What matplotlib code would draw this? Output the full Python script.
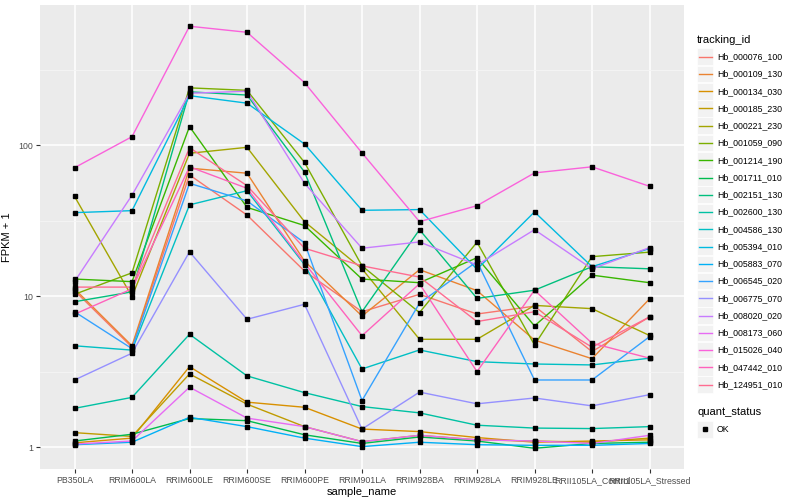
import numpy as np
import matplotlib.pyplot as plt
from matplotlib.patches import Rectangle
from matplotlib.lines import Line2D

plt.rcParams['font.family'] = ['Liberation Sans', 'DejaVu Sans']

samples = ['PB350LA', 'RRIM600LA', 'RRIM600LE', 'RRIM600SE', 'RRIM600PE', 'RRIM901LA',
           'RRIM928BA', 'RRIM928LA', 'RRIM928LE', 'RRII105LA_Control', 'RRII105LA_Stressed']

ids = ['Hb_000076_100', 'Hb_000109_130', 'Hb_000134_030', 'Hb_000185_230', 'Hb_000221_230',
       'Hb_001059_090', 'Hb_001214_190', 'Hb_001711_010', 'Hb_002151_130', 'Hb_002600_130',
       'Hb_004586_130', 'Hb_005394_010', 'Hb_005883_070', 'Hb_006545_020', 'Hb_006775_070',
       'Hb_008020_020', 'Hb_008173_060', 'Hb_015026_040', 'Hb_047442_010', 'Hb_124951_010']

colors = ['#F8766D', '#EA8331', '#D89000', '#C09B00', '#A3A500', '#7CAE00', '#39B600', '#00BB4E',
          '#00BF7D', '#00C1A3', '#00BFC4', '#00BAE0', '#00B0F6', '#35A2FF', '#9590FF', '#C77CFF',
          '#E76BF3', '#FA62DB', '#FF62BC', '#FF6C91']

# FPKM + 1 per sample, one list per gene
hb_000076_100 = [10.9, 4.6, 63.6, 34.5, 14.7, 7.9, 10.3, 7.63, 8.6, 4.3, 7.3]
hb_000109_130 = [11.2, 4.7, 70.5, 65.3, 17.1, 7.4, 15.0, 10.9, 5.13, 3.86, 9.6]
hb_000134_030 = [1.07, 1.15, 3.42, 1.99, 1.84, 1.32, 1.27, 1.16, 1.08, 1.10, 1.12]
hb_000185_230 = [1.25, 1.18, 3.06, 1.93, 1.37, 1.09, 1.20, 1.12, 1.10, 1.08, 1.15]
hb_000221_230 = [45.9, 9.94, 88.5, 96.9, 31.2, 15.2, 5.19, 5.19, 8.7, 8.28, 5.5]
hb_001059_090 = [10.3, 14.3, 240, 231, 77, 15.9, 7.8, 22.8, 4.76, 18.3, 19.6]
hb_001214_190 = [13.0, 12.5, 133, 38.8, 29.4, 13.0, 12.3, 18.0, 6.36, 13.8, 12.3]
hb_001711_010 = [1.10, 1.22, 1.55, 1.50, 1.21, 1.06, 1.17, 1.10, 0.985, 1.06, 1.08]
hb_002151_130 = [9.2, 10.7, 226, 215, 66.5, 7.9, 27.6, 9.68, 10.97, 15.7, 15.2]
hb_002600_130 = [1.81, 2.14, 5.6, 2.97, 2.30, 1.86, 1.69, 1.40, 1.34, 1.33, 1.37]
hb_004586_130 = [4.7, 4.4, 40.3, 50, 16.2, 3.30, 4.41, 3.69, 3.56, 3.51, 3.89]
hb_005394_010 = [35.8, 36.9, 213, 190, 102, 37.1, 37.5, 15.1, 36.2, 15.7, 20.7]
hb_005883_070 = [1.04, 1.08, 1.58, 1.37, 1.15, 1.01, 1.08, 1.04, 1.03, 1.03, 1.06]
hb_006545_020 = [7.9, 4.5, 56, 42.8, 22.6, 2.04, 9.0, 17.0, 2.79, 2.79, 5.4]
hb_006775_070 = [2.79, 4.2, 19.7, 7.04, 8.85, 1.32, 2.32, 1.94, 2.12, 1.88, 2.23]
hb_008020_020 = [12.5, 46.7, 221, 228, 56, 20.8, 22.9, 16.1, 27.6, 15.2, 21.0]
hb_008173_060 = [1.05, 1.10, 2.5, 1.56, 1.37, 1.09, 1.20, 1.12, 1.10, 1.06, 1.20]
hb_015026_040 = [71, 114, 614, 560, 260, 89, 31.2, 39.8, 65.6, 72, 53.5]
hb_047442_010 = [7.6, 11.2, 72, 51.9, 16.6, 5.48, 12.1, 3.17, 10.97, 4.89, 3.89]
hb_124951_010 = [11.5, 11.5, 96.4, 54, 20.8, 15.9, 13.4, 6.80, 7.9, 4.6, 7.3]

values = [hb_000076_100, hb_000109_130, hb_000134_030, hb_000185_230, hb_000221_230,
          hb_001059_090, hb_001214_190, hb_001711_010, hb_002151_130, hb_002600_130,
          hb_004586_130, hb_005394_010, hb_005883_070, hb_006545_020, hb_006775_070,
          hb_008020_020, hb_008173_060, hb_015026_040, hb_047442_010, hb_124951_010]

W, H = 800, 500
fig = plt.figure(figsize=(8, 5), dpi=100)
ax = fig.add_axes([40 / W, 1 - 469 / H, (684 - 40) / W, (469 - 5) / H])
ax.set_facecolor('#EBEBEB')

x = np.arange(len(samples))
for vals, c in zip(values, colors):
    ax.plot(x, vals, color=c, lw=1, zorder=3)
for vals in values:
    ax.plot(x, vals, ls='none', marker='s', ms=2.8, color='black', zorder=4)

ax.set_yscale('log')
ax.set_ylim(0.718, 849)
ax.set_xlim(-0.6, len(samples) - 0.4)
ax.set_xticks(x)
ax.set_xticklabels(samples, fontsize=6.3, color='#4D4D4D')
ax.set_yticks([1, 10, 100])
ax.set_yticklabels(['1', '10', '100'], fontsize=6.3, color='#4D4D4D')
ax.set_yticks([10 ** 0.5, 10 ** 1.5, 10 ** 2.5], minor=True)
ax.yaxis.set_minor_formatter(plt.NullFormatter())
ax.tick_params(axis='both', which='major', length=3, color='#333333', width=0.8, pad=2)
ax.tick_params(axis='y', which='minor', length=0)
ax.grid(True, which='major', color='white', lw=1.1, zorder=0)
ax.grid(True, which='minor', axis='y', color='#F5F5F5', lw=0.6, zorder=0)
ax.set_axisbelow(True)
for s in ax.spines.values():
    s.set_visible(False)
ax.set_xlabel('sample_name', fontsize=8)
ax.set_ylabel('FPKM + 1', fontsize=8)
ax.xaxis.set_label_coords(0.5, -(487 - 469) / 464)
ax.yaxis.set_label_coords(-(40 - 12) / 644, 0.5)


def fx(px):
    return px / W


def fy(py):
    return 1 - py / H


# legend: tracking_id
fig.text(fx(697), fy(40), 'tracking_id', fontsize=8, va='center', ha='left')
for i, (name, c) in enumerate(zip(ids, colors)):
    yc = 56.7 + i * 17.26
    fig.add_artist(Rectangle((fx(697), fy(yc + 8.3)), 16 / W, 16.6 / H,
                             facecolor='#F2F2F2', edgecolor='white', lw=0.5,
                             transform=fig.transFigure))
    fig.add_artist(Line2D([fx(698.5), fx(711.5)], [fy(yc), fy(yc)], color=c, lw=1,
                          transform=fig.transFigure))
    fig.text(fx(717), fy(yc), name, fontsize=6.3, va='center', ha='left')

# legend: quant_status
fig.text(fx(697), fy(412), 'quant_status', fontsize=8, va='center', ha='left')
fig.add_artist(Rectangle((fx(697), fy(437.5)), 16 / W, 16.6 / H,
                         facecolor='#F2F2F2', edgecolor='white', lw=0.5,
                         transform=fig.transFigure))
fig.add_artist(Line2D([fx(705)], [fy(429)], ls='none', marker='s', ms=2.8, color='black',
                      transform=fig.transFigure))
fig.text(fx(717), fy(429), 'OK', fontsize=6.3, va='center', ha='left')

fig.savefig('out.png', dpi=100)
